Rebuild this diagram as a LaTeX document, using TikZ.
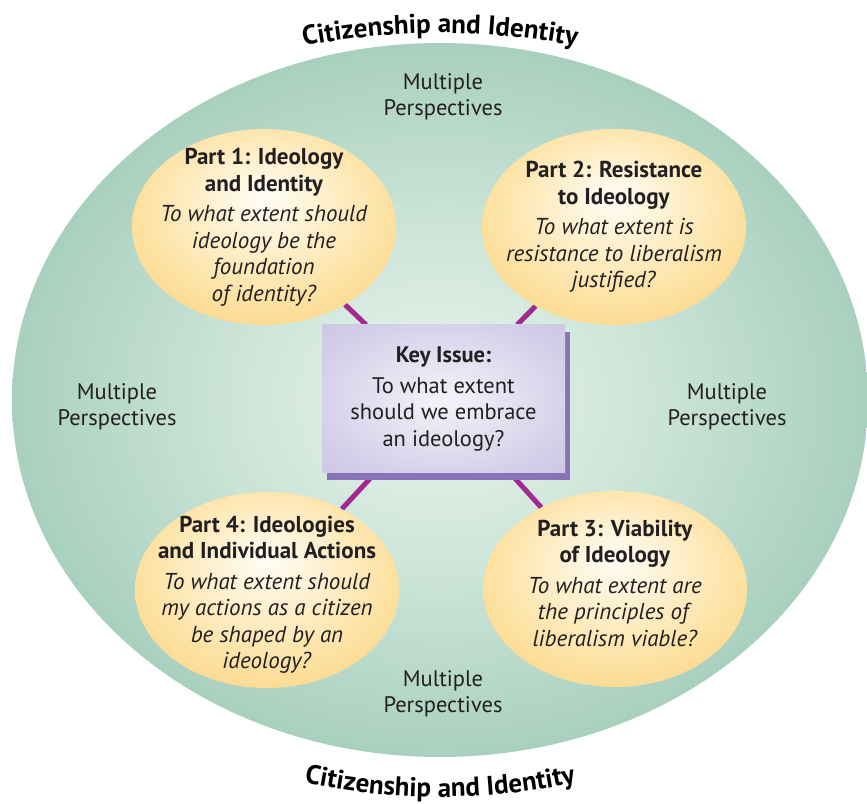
\documentclass[tikz,border=0pt]{standalone}
\usepackage{xcolor}
\usepackage{fontspec}
\setmainfont{PT Sans}
\usetikzlibrary{shapes.geometric,shadows,decorations.text}

\definecolor{inktext}{HTML}{231F20}
\definecolor{tealcore}{HTML}{E9F4EE}
\definecolor{tealmid}{HTML}{CDE5D9}
\definecolor{teallow}{HTML}{A6CEBC}
\definecolor{tealdeep}{HTML}{93C4AF}
\definecolor{tealedge}{HTML}{86BCA6}
\definecolor{suncore}{HTML}{FFFDF6}
\definecolor{sunmid}{HTML}{FDE1A0}
\definecolor{sunedge}{HTML}{F8C15A}
\definecolor{lilaccore}{HTML}{F4F3FA}
\definecolor{lilacmid}{HTML}{D3CEE8}
\definecolor{lilacedge}{HTML}{C2BCDE}
\definecolor{lilacshadow}{HTML}{8A72B6}
\definecolor{linkpurple}{HTML}{A1298F}

\pgfdeclareradialshading{teal glow}{\pgfpoint{0bp}{0bp}}{color(0bp)=(tealcore); color(12bp)=(tealmid); color(26bp)=(teallow); color(40bp)=(tealdeep); color(50bp)=(tealedge)}
\pgfdeclareradialshading{sun glow}{\pgfpoint{0bp}{8bp}}{color(0bp)=(suncore); color(24bp)=(sunmid); color(50bp)=(sunedge)}
\pgfdeclareradialshading{lilac glow}{\pgfpoint{0bp}{0bp}}{color(0bp)=(lilaccore); color(28bp)=(lilacmid); color(50bp)=(lilacedge)}

\pgfdeclarelayer{background}
\pgfsetlayers{background,main}

\begin{document}
\begin{tikzpicture}[x=1pt,y=1pt,
    part/.style={ellipse, shading=sun glow, minimum width=264pt, minimum height=196pt, inner sep=0pt},
    parttext/.style={align=center, text=inktext, font=\fontsize{23}{26.5}\selectfont},
    keybox/.style={rectangle, shading=lilac glow, minimum width=243pt, minimum height=148pt,
        drop shadow={shadow xshift=5pt, shadow yshift=-7pt, fill=lilacshadow, opacity=1},
        align=center, text=inktext, font=\fontsize{22.5}{26.5}\selectfont},
    persp/.style={align=center, text=inktext, font=\fontsize{22.5}{26}\selectfont},
    link/.style={line width=5pt, draw=linkpurple}]
    \useasboundingbox (0,0) rectangle (867,803);

    % the four parts
    \node[part] (p1) at (264,576) {};
    \node[part] (p2) at (614,576) {};
    \node[part] (p3) at (615,214) {};
    \node[part] (p4) at (267,213) {};
    \node[parttext] (p1t) at (p1) {\textbf{Part 1: Ideology}\\\textbf{and Identity}\\[4pt]
        \textit{To what extent should}\\\textit{ideology be the}\\\textit{foundation}\\\textit{of identity?}};
    \node[parttext] (p2t) at (p2) {\textbf{Part 2: Resistance}\\\textbf{to Ideology}\\[4pt]
        \textit{To what extent is}\\\textit{resistance to liberalism}\\\textit{justified?}};
    \node[parttext] (p3t) at ([yshift=6pt]p3) {\textbf{Part 3: Viability}\\\textbf{of Ideology}\\[4pt]
        \textit{To what extent are}\\\textit{the principles of}\\\textit{liberalism viable?}};
    \node[parttext] (p4t) at ([yshift=-5pt]p4) {\textbf{Part 4: Ideologies}\\\textbf{and Individual Actions}\\[4pt]
        \textit{To what extent should}\\\textit{my actions as a citizen}\\\textit{be shaped by an}\\\textit{ideology?}};

    % key issue
    \node[keybox] (key) at (443.5,404) {\textbf{Key Issue:}\\[4pt]To what extent\\should we embrace\\an ideology?};

    \node[persp] (mptop) at (443,706) {Multiple\\Perspectives};
    \node[persp] (mpleft) at (117,396) {Multiple\\Perspectives};
    \node[persp] (mpright) at (727,396) {Multiple\\Perspectives};
    \node[persp] (mpbottom) at (443,109) {Multiple\\Perspectives};

    % curved titles
    \path[decorate, decoration={text along path, text align=center,
        text={|\fontsize{27}{30}\selectfont\bfseries|Citizenship and Identity}}]
        (440,50) ++(102:720) arc[start angle=102, end angle=78, radius=720];
    \path[decorate, decoration={text along path, text align=center,
        text={|\fontsize{27}{30}\selectfont\bfseries|Citizenship and Identity}}]
        (440,656) ++(256:650) arc[start angle=256, end angle=284, radius=650];

    \begin{pgfonlayer}{background}
        \shade[shading=teal glow] (440,403) ellipse[x radius=428, y radius=357];
        \draw[link] (p1) -- (key);
        \draw[link] (p2) -- (key);
        \draw[link] (p3) -- (key);
        \draw[link] (p4) -- (key);
    \end{pgfonlayer}
\end{tikzpicture}
\end{document}
